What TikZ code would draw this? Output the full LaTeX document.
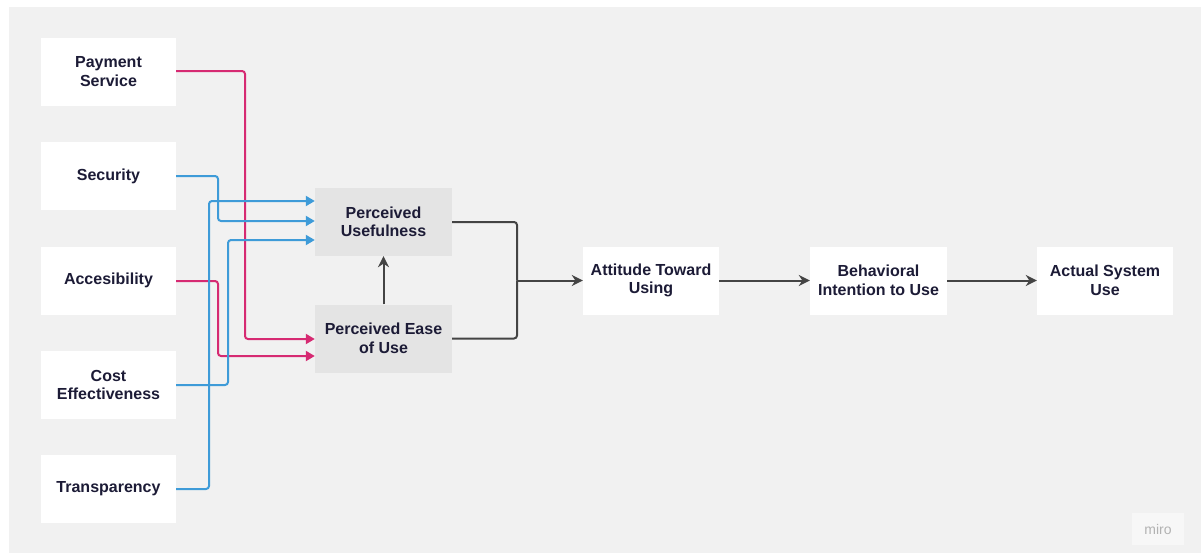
\documentclass[tikz,border=0pt]{standalone}
\usepackage{fontspec}
\setmainfont{Liberation Sans}
\usetikzlibrary{arrows.meta}
\definecolor{bg}{HTML}{F1F1F1}
\definecolor{inner}{HTML}{E4E4E4}
\definecolor{txt}{HTML}{1C1B36}
\definecolor{pinkc}{HTML}{D62A72}
\definecolor{bluec}{HTML}{3E9BD8}
\definecolor{linec}{HTML}{444444}
\tikzset{
  x=1pt,y=-1pt,
  box/.style={fill=white, draw=none, minimum width=135pt, minimum height=68pt, align=center,
    font=\fontsize{16}{18.5}\selectfont\bfseries, text=txt, inner sep=0pt},
  gbox/.style={box, fill=inner, minimum width=137pt},
  pinkarr/.style={draw=pinkc, line width=2pt, rounded corners=3pt, -{Triangle[length=9pt,width=10pt]}},
  bluearr/.style={draw=bluec, line width=2pt, rounded corners=3pt, -{Triangle[length=9pt,width=10pt]}},
  darr/.style={draw=linec, line width=2pt, rounded corners=3pt, -{Stealth[length=11pt,width=11pt]}},
  dline/.style={draw=linec, line width=2pt, rounded corners=3pt},
}
\begin{document}
\begin{tikzpicture}
\useasboundingbox (0,0) rectangle (1201,557);
\fill[white] (0,0) rectangle (1201,557);
\fill[bg] (9,7) rectangle (1201,553);
% left boxes
\node[box] (pay) at (108.5,71.5) {Payment\\Service};
\node[box] (sec) at (108.5,176) {Security};
\node[box] (acc) at (108.5,280.5) {Accesibility};
\node[box] (cost) at (108.5,385) {Cost\\Effectiveness};
\node[box] (tra) at (108.5,489) {Transparency};
% middle
\node[gbox] (pu) at (383.5,222) {Perceived\\Usefulness};
\node[gbox] (peu) at (383.5,338.5) {Perceived Ease\\of Use};
\node[box, minimum width=136pt] (att) at (651,280.5) {Attitude Toward\\Using};
\node[box, minimum width=137pt] (beh) at (878.5,280.5) {Behavioral\\Intention to Use};
\node[box, minimum width=136pt] (act) at (1105,280.5) {Actual System\\Use};
% coordinates
\coordinate (j) at (517,280.5);
% pink connectors
\draw[pinkarr] (pay.east |- 0,71) -| (245,339) -- (peu.west |- 0,339);
\draw[pinkarr] (acc.east |- 0,281) -| (218,356) -- (peu.west |- 0,356);
% blue connectors
\draw[bluearr] (sec.east |- 0,176) -| (218,221) -- (pu.west |- 0,221);
\draw[bluearr] (tra.east |- 0,489) -| (209,201) -- (pu.west |- 0,201);
\draw[bluearr] (cost.east |- 0,385) -| (228,240) -- (pu.west |- 0,240);
% dark connectors
\draw[darr] (peu.north) -- (pu.south);
\draw[dline] (pu.east) -| (j);
\draw[dline] (peu.east) -| (j);
\draw[darr] (j) -- (att.west);
\draw[darr] (att.east) -- (beh.west);
\draw[darr] (beh.east) -- (act.west);
% watermark
\node[fill=white!40!bg, minimum width=52pt, minimum height=32pt, text=black!30, font=\fontsize{14}{16}\selectfont, inner sep=0pt] (miro) at (1158,529) {miro};
\end{tikzpicture}
\end{document}
